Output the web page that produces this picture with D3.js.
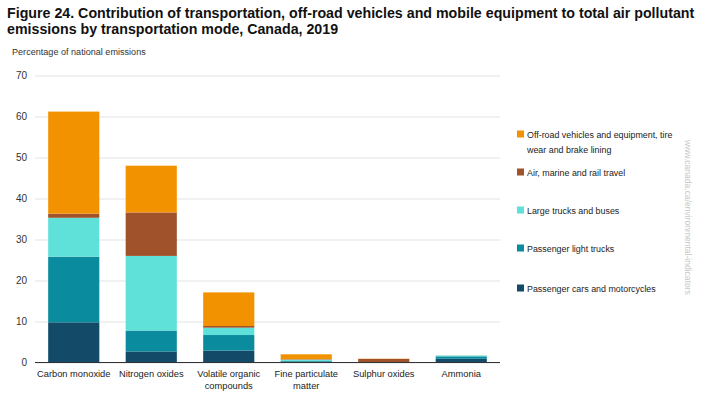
<!DOCTYPE html>
<html><head><meta charset="utf-8">
<script src="https://cdn.jsdelivr.net/npm/d3@7"></script>
<style>
body{margin:0;background:#fff;}
svg{display:block;font-family:"Liberation Sans",Arial,sans-serif;}
</style></head>
<body><svg id="c" width="704" height="397"></svg>
<script>
const categories = ["Carbon monoxide","Nitrogen oxides","Volatile organic compounds","Fine particulate matter","Sulphur oxides","Ammonia"];
const categoryLines = [["Carbon monoxide"],["Nitrogen oxides"],["Volatile organic","compounds"],["Fine particulate","matter"],["Sulphur oxides"],["Ammonia"]];
const seriesNames = ["Passenger cars and motorcycles","Passenger light trucks","Large trucks and buses","Air, marine and rail travel","Off-road vehicles and equipment, tire wear and brake lining"];
const carsMoto   = [9.8, 2.7, 2.9, 0.2, 0.03, 0.9];
const lightTrucks= [16.0, 5.1, 3.8, 0.2, 0.03, 0.6];
const largeTrucks= [9.5, 18.2, 1.8, 0.3, 0.02, 0.2];
const airMarine  = [1.0, 10.6, 0.4, 0.1, 0.8, 0.0];
const offRoad    = [24.9, 11.4, 8.2, 1.2, 0.05, 0.02];
const yTicks = [0,10,20,30,40,50,60,70];
const colors = ["#124A68","#0A8C9E","#5FE0D8","#A0522A","#F39200"];

const svg = d3.select("#c");
const seriesVals = [carsMoto, lightTrucks, largeTrucks, airMarine, offRoad];
const rows = categories.map((c,i)=>{const r={cat:c}; seriesNames.forEach((s,j)=>r[s]=seriesVals[j][i]); return r;});
const stack = d3.stack().keys(seriesNames)(rows);

const x = d3.scaleBand().domain(categories).range([35,500]).paddingInner(0.34).paddingOuter(0.17);
const y = d3.scaleLinear().domain([0,70]).range([362.5,75.5]);

function fit(sel, base, target){
  sel.attr("font-size",base);
  const w = sel.node().getComputedTextLength();
  sel.attr("font-size", base*target/w);
}

// title
const title = svg.append("text").attr("x",7).attr("font-weight","bold").attr("font-size",15.5).attr("fill","#111");
const t1 = title.append("tspan").attr("x",7).attr("y",18).text("Figure 24. Contribution of transportation, off-road vehicles and mobile equipment to total air pollutant");
title.append("tspan").attr("x",7).attr("y",34).text("emissions by transportation mode, Canada, 2019");
{ const w = t1.node().getComputedTextLength(); title.attr("font-size", 15.5*688/w); }

const yt = svg.append("text").attr("x",12).attr("y",55).attr("fill","#333").text("Percentage of national emissions");
fit(yt, 9.5, 134);

// grid
const yAxis = d3.axisLeft(y).tickValues(yTicks).tickSize(-465).tickPadding(8);
const ga = svg.append("g").attr("transform","translate(35,0)").call(yAxis);
ga.select(".domain").remove();
ga.selectAll(".tick line").attr("stroke","#e3e3e3");
ga.selectAll(".tick text").attr("font-size",10).attr("fill","#333").attr("font-family","Liberation Sans, Arial, sans-serif").attr("x",-8);

// bars
svg.append("g").selectAll("g").data(stack).join("g").attr("fill",(d,i)=>colors[i])
  .selectAll("rect").data(d=>d).join("rect")
  .attr("x",d=>x(d.data.cat)).attr("width",x.bandwidth())
  .attr("y",d=>y(d[1])).attr("height",d=>Math.max(0,y(d[0])-y(d[1])));

// baseline
svg.append("line").attr("x1",35).attr("x2",500).attr("y1",y(0)).attr("y2",y(0)).attr("stroke","#333").attr("stroke-width",1.2);

// x labels
const xl = svg.append("g").selectAll("text").data(categories).join("text")
  .attr("text-anchor","middle").attr("font-size",9.3).attr("fill","#222");
xl.each(function(d,i){
  const t=d3.select(this);
  categoryLines[i].forEach((ln,k)=>t.append("tspan").attr("x",x(d)+x.bandwidth()/2).attr("y",377+k*12).text(ln));
});

// legend
const legend = [
  {k:4, y:134, lines:["Off-road vehicles and equipment, tire","wear and brake lining"]},
  {k:3, y:172, lines:["Air, marine and rail travel"]},
  {k:2, y:210, lines:["Large trucks and buses"]},
  {k:1, y:248, lines:["Passenger light trucks"]},
  {k:0, y:288, lines:["Passenger cars and motorcycles"]}
];
const lg = svg.append("g");
legend.forEach(l=>{
  lg.append("rect").attr("x",517).attr("y",l.y-3.5).attr("width",7).attr("height",7).attr("fill",colors[l.k]);
  const t = lg.append("text").attr("font-size",8.9).attr("fill","#222");
  l.lines.forEach((ln,k)=>t.append("tspan").attr("x",527).attr("y",l.y+3.5+k*15.5).text(ln));
});

// watermark
const wm = svg.append("text").attr("transform","translate(685,140) rotate(90)").attr("fill","#c8c8c8")
  .text("www.canada.ca/environmental-indicators");
fit(wm, 9, 155);
</script></body></html>
